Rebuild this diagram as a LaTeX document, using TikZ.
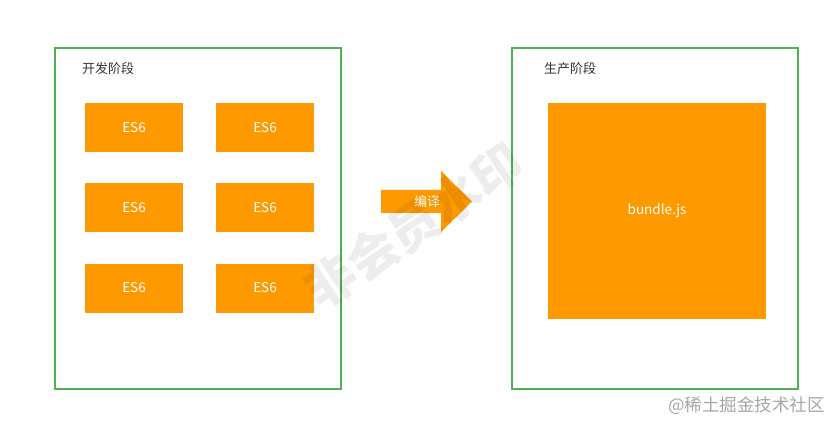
\documentclass[tikz,border=0pt]{standalone}
\usepackage{fontspec}
\setmainfont{Noto Sans CJK SC}
\definecolor{boxorange}{RGB}{255,153,0}
\definecolor{stagegreen}{RGB}{80,175,80}
\definecolor{labelgray}{RGB}{51,51,51}
\begin{document}
\begin{tikzpicture}[x=1pt,y=-1pt,
    stage/.style={draw=stagegreen,line width=1.5pt},
    esbox/.style={fill=boxorange,text=white,minimum width=98pt,minimum height=49pt,inner sep=0pt,font=\fontsize{13.5}{15}\selectfont},
    stagelabel/.style={anchor=west,text=labelgray,inner sep=0pt,font=\fontsize{13}{15}\selectfont}]
    \useasboundingbox (0,0) rectangle (830,422);

    % Stages
    \draw[stage] (55,48) rectangle (341,389);
    \draw[stage] (512,48) rectangle (798,389);
    \node[stagelabel] (dev) at (82,69) {开发阶段};
    \node[stagelabel] (prod) at (544,69) {生产阶段};

    % Source modules
    \foreach \r/\y in {1/128,2/208,3/288}{
        \node[esbox] (esa\r) at (134,\y) {ES6};
        \node[esbox] (esb\r) at (265,\y) {ES6};
    }

    % Compile arrow
    \fill[boxorange] (381,190) -- (441,190) -- (441,171) -- (472,201.5) -- (441,232) -- (441,213) -- (381,213) -- cycle;
    \node[text=white,font=\fontsize{13}{15}\selectfont] (compile) at (427,202) {编译};

    % Bundle
    \node[fill=boxorange,text=white,minimum width=218pt,minimum height=216pt,inner sep=0pt,font=\fontsize{13.5}{15}\selectfont] (bundle) at (657,211) {bundle.js};

    % Watermark
    \node[text=black,text opacity=0.07,rotate=34,font=\fontsize{50}{54}\bfseries\selectfont] (mark) at (414,226) {非会员水印};

    % Footer
    \node[anchor=east,text=black!35,inner sep=0pt,font=\fontsize{17.5}{19}\selectfont] (site) at (825,406) {@稀土掘金技术社区};
\end{tikzpicture}
\end{document}
